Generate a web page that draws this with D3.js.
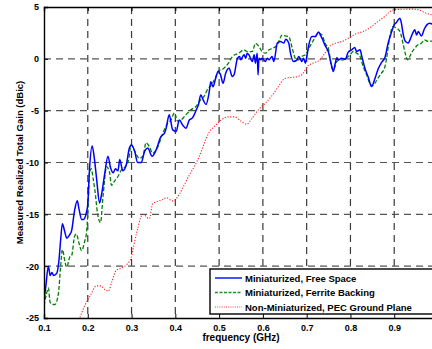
<!DOCTYPE html>
<html>
<head>
<meta charset="utf-8">
<script src="https://cdn.jsdelivr.net/npm/d3@7"></script>
<style>
  body { margin: 0; background: #fff; }
  svg { display: block; font-family: 'Liberation Sans', Arial, sans-serif; }
</style>
</head>
<body>
<div id="chart"></div>
<script>
// frequency (GHz) / gain (dBic)
const freeSpace = [
	[0.1,-23.3],[0.104,-22.0],[0.11,-20.0],[0.114,-20.9],[0.118,-20.6],[0.122,-20.9],[0.129,-20.7],[0.134,-19.5],
	[0.138,-17.5],[0.142,-15.9],[0.147,-16.6],[0.152,-17.3],[0.158,-17.0],[0.163,-16.6],[0.17,-14.6],[0.176,-13.7],
	[0.18,-14.5],[0.186,-15.5],[0.19,-15.5],[0.197,-14.8],[0.2,-14.0],[0.204,-10.6],[0.21,-8.4],[0.215,-9.6],
	[0.22,-11.5],[0.227,-13.9],[0.231,-13.2],[0.239,-11.0],[0.246,-9.4],[0.252,-10.5],[0.258,-11.0],[0.263,-10.6],
	[0.269,-10.8],[0.273,-9.7],[0.28,-10.8],[0.288,-10.2],[0.295,-8.6],[0.3,-8.3],[0.307,-8.9],[0.314,-10.0],
	[0.322,-10.0],[0.33,-8.9],[0.337,-8.6],[0.347,-9.4],[0.356,-8.8],[0.367,-7.5],[0.375,-7.2],[0.379,-6.7],
	[0.386,-5.4],[0.394,-6.85],[0.402,-7.0],[0.409,-5.9],[0.417,-6.4],[0.424,-6.7],[0.432,-5.9],[0.439,-5.7],
	[0.443,-5.4],[0.448,-4.9],[0.453,-4.4],[0.458,-3.5],[0.464,-4.0],[0.47,-4.4],[0.477,-3.3],[0.481,-2.2],
	[0.486,-2.7],[0.492,-1.9],[0.498,-1.2],[0.503,-1.5],[0.509,-2.35],[0.515,-1.38],[0.523,-0.9],[0.53,-1.7],
	[0.534,-1.55],[0.542,0.06],[0.547,0.23],[0.549,-0.1],[0.557,0.39],[0.561,0.06],[0.564,0.55],[0.568,0.39],
	[0.576,-0.26],[0.58,0.39],[0.583,-0.42],[0.587,0.55],[0.589,-1.55],[0.591,0.06],[0.595,-0.1],[0.598,0.06],
	[0.606,-0.26],[0.61,0.06],[0.614,-0.1],[0.621,0.23],[0.625,-0.26],[0.633,1.52],[0.64,1.68],[0.648,1.52],
	[0.652,1.9],[0.659,1.52],[0.663,0.55],[0.67,-0.26],[0.678,-0.1],[0.682,0.23],[0.689,-0.26],[0.693,0.06],
	[0.697,-0.42],[0.701,0.39],[0.705,1.35],[0.712,2.16],[0.72,2.16],[0.727,2.6],[0.731,2.32],[0.735,2.0],
	[0.742,1.3],[0.75,0.6],[0.756,-0.5],[0.761,-1.22],[0.765,-0.5],[0.769,0.1],[0.772,-0.1],[0.78,0.06],
	[0.788,-0.05],[0.795,0.65],[0.803,0.87],[0.81,1.1],[0.814,0.71],[0.822,0.87],[0.826,0.23],[0.833,-0.9],
	[0.841,-1.8],[0.848,-2.67],[0.856,-1.9],[0.863,-1.0],[0.871,-0.35],[0.879,0.15],[0.886,1.5],[0.894,2.6],
	[0.9,3.3],[0.905,3.5],[0.909,3.76],[0.913,3.92],[0.917,3.3],[0.92,2.48],[0.924,1.8],[0.928,1.6],
	[0.932,1.52],[0.936,1.83],[0.943,2.55],[0.947,2.8],[0.951,2.3],[0.955,2.64],[0.962,2.2],[0.969,2.9],
	[0.975,3.3],[0.981,3.44],[0.99,3.3],[1.0,3.2]
];

const ferrite = [
	[0.1,-23.8],[0.105,-22.8],[0.11,-22.1],[0.114,-23.5],[0.121,-23.7],[0.125,-23.7],[0.133,-22.6],[0.138,-20.0],
	[0.142,-18.4],[0.148,-19.6],[0.152,-20.1],[0.159,-19.1],[0.163,-19.0],[0.17,-17.1],[0.174,-16.9],[0.18,-17.8],
	[0.186,-18.5],[0.193,-17.6],[0.197,-16.8],[0.2,-15.0],[0.204,-11.0],[0.208,-10.6],[0.212,-11.5],[0.216,-12.6],
	[0.223,-15.1],[0.229,-15.8],[0.235,-13.2],[0.243,-10.4],[0.25,-11.0],[0.254,-12.2],[0.261,-11.8],[0.269,-11.35],
	[0.277,-10.7],[0.288,-10.3],[0.294,-9.6],[0.299,-8.3],[0.307,-8.9],[0.318,-9.6],[0.326,-9.4],[0.333,-8.1],
	[0.341,-8.5],[0.348,-9.1],[0.36,-8.5],[0.371,-7.2],[0.383,-6.2],[0.39,-5.9],[0.398,-5.2],[0.405,-6.0],
	[0.413,-5.9],[0.424,-5.4],[0.436,-4.9],[0.447,-4.6],[0.458,-3.95],[0.466,-3.6],[0.473,-3.0],[0.485,-2.35],
	[0.496,-1.4],[0.5,-1.1],[0.508,-1.0],[0.515,-0.74],[0.523,-0.3],[0.53,0.2],[0.545,0.55],[0.557,0.87],
	[0.564,0.7],[0.576,0.7],[0.583,1.5],[0.591,1.2],[0.598,0.7],[0.606,0.55],[0.614,0.87],[0.621,1.0],
	[0.633,1.35],[0.644,2.3],[0.652,2.2],[0.659,2.15],[0.667,1.03],[0.674,0.06],[0.682,-0.1],[0.689,0.23],
	[0.697,0.39],[0.705,1.03],[0.716,1.83],[0.727,2.48],[0.735,2.3],[0.742,1.5],[0.75,0.9],[0.757,-0.74],
	[0.761,-1.06],[0.769,-0.26],[0.777,-0.1],[0.784,-0.1],[0.791,0.06],[0.799,0.39],[0.807,0.71],[0.814,0.55],
	[0.822,0.23],[0.829,-0.74],[0.837,-1.54],[0.844,-2.35],[0.85,-2.6],[0.856,-2.35],[0.863,-1.86],[0.871,-1.38],
	[0.879,-0.74],[0.882,-0.1],[0.89,2.15],[0.897,3.1],[0.905,2.96],[0.913,2.64],[0.92,1.5],[0.925,0.55],
	[0.931,-0.1],[0.939,0.55],[0.947,1.03],[0.954,1.35],[0.962,1.5],[0.969,1.83],[0.977,1.68],[0.985,1.7],[1.0,1.6]
];

const pecGround = [
	[0.18,-25.2],[0.193,-23.8],[0.205,-22.9],[0.22,-21.9],[0.23,-21.9],[0.24,-22.3],[0.247,-22.4],[0.255,-21.5],
	[0.265,-20.4],[0.276,-20.2],[0.29,-19.8],[0.299,-19.2],[0.305,-18.0],[0.314,-16.4],[0.322,-15.2],[0.328,-15.0],
	[0.335,-15.3],[0.341,-15.4],[0.348,-14.0],[0.356,-13.8],[0.37,-13.6],[0.38,-13.4],[0.388,-13.6],[0.395,-13.7],
	[0.41,-13.0],[0.42,-12.2],[0.432,-11.2],[0.443,-10.4],[0.455,-9.4],[0.466,-8.15],[0.477,-7.1],[0.49,-6.5],
	[0.505,-5.9],[0.52,-5.6],[0.535,-5.6],[0.55,-6.0],[0.563,-6.3],[0.575,-5.75],[0.59,-4.9],[0.605,-4.3],
	[0.62,-3.6],[0.635,-2.7],[0.65,-1.9],[0.665,-1.8],[0.68,-1.7],[0.692,-1.4],[0.7,-0.8],[0.715,-0.4],
	[0.727,-0.2],[0.742,0.55],[0.755,1.3],[0.77,1.55],[0.785,1.75],[0.8,2.1],[0.815,2.45],[0.83,2.65],
	[0.848,3.1],[0.863,3.6],[0.878,4.08],[0.89,4.55],[0.9,4.75],[0.92,4.78],[0.94,4.8],[0.955,4.73],
	[0.97,4.45],[0.985,4.25],[1.0,4.1]
];

const xTicks = [0.1, 0.2, 0.3, 0.4, 0.5, 0.6, 0.7, 0.8, 0.9];
const yTicks = [5, 0, -5, -10, -15, -20, -25];
const seriesNames = ['Miniaturized, Free Space', 'Miniaturized, Ferrite Backing', 'Non-Miniaturized, PEC Ground Plane'];

const W = 432, H = 349;
const margin = { top: 7, left: 44, bottom: 31 };
const plotRight = 438; // axis runs to 1.0 GHz, past the cropped edge

const svg = d3.select('#chart').append('svg')
	.attr('width', W)
	.attr('height', H);

const x = d3.scaleLinear().domain([0.1, 1.0]).range([margin.left, plotRight]);
const y = d3.scaleLinear().domain([-25, 5]).range([H - margin.bottom, margin.top]);

svg.append('defs').append('clipPath').attr('id', 'plot')
	.append('rect')
	.attr('x', margin.left).attr('y', margin.top)
	.attr('width', plotRight - margin.left).attr('height', y(-25) - y(5));

// grid
const grid = svg.append('g')
	.attr('stroke', '#3a3a3a')
	.attr('stroke-width', 1.2)
	.attr('stroke-dasharray', '7,5')
	.attr('fill', 'none');

grid.selectAll('.vg')
	.data(xTicks.slice(1))
	.enter().append('line')
	.attr('x1', d => x(d)).attr('x2', d => x(d))
	.attr('y1', y(5)).attr('y2', y(-25));

grid.selectAll('.hg')
	.data(yTicks.slice(1, -1))
	.enter().append('line')
	.attr('stroke', '#555')
	.attr('x1', x(0.1)).attr('x2', plotRight)
	.attr('y1', d => y(d)).attr('y2', d => y(d));

// curves
const line = d3.line()
	.x(d => x(d[0]))
	.y(d => y(d[1]))
	.curve(d3.curveMonotoneX);

const curves = svg.append('g').attr('clip-path', 'url(#plot)').attr('fill', 'none');

curves.append('path')
	.datum(pecGround)
	.attr('stroke', '#ff2020')
	.attr('stroke-width', 1.1)
	.attr('stroke-dasharray', '1.2,1.6')
	.attr('d', line);

curves.append('path')
	.datum(ferrite)
	.attr('stroke', '#008000')
	.attr('stroke-width', 1.3)
	.attr('stroke-dasharray', '4,2')
	.attr('d', line);

curves.append('path')
	.datum(freeSpace)
	.attr('stroke', '#0000ff')
	.attr('stroke-width', 1.5)
	.attr('d', line);

// axes (matlab-style inward ticks)
const xAxis = d3.axisBottom(x)
	.tickValues(xTicks)
	.tickSize(-4)
	.tickPadding(7)
	.tickFormat(d3.format('.1f'));

const yAxis = d3.axisLeft(y)
	.tickValues(yTicks)
	.tickSize(-4)
	.tickPadding(5)
	.tickFormat(d => d);

const gx = svg.append('g')
	.attr('transform', `translate(0, ${y(-25)})`)
	.call(xAxis);

const gy = svg.append('g')
	.attr('transform', `translate(${margin.left}, 0)`)
	.call(yAxis);

const gTop = svg.append('g')
	.attr('transform', `translate(0, ${y(5)})`)
	.call(d3.axisTop(x).tickValues(xTicks).tickSize(-4).tickFormat(''));

[gx, gy, gTop].forEach(g => {
	g.selectAll('.domain').attr('stroke', '#000').attr('stroke-width', 1.4);
	g.selectAll('.tick line').attr('stroke', '#000');
	g.selectAll('.tick text')
		.attr('font-size', 9)
		.attr('font-weight', 'bold')
		.attr('font-family', "'Liberation Sans', Arial, sans-serif")
		.attr('fill', '#000');
});

// axis labels
svg.append('text')
	.attr('x', 241)
	.attr('y', 341)
	.attr('text-anchor', 'middle')
	.attr('font-size', 10)
	.attr('font-weight', 'bold')
	.text('frequency (GHz)');

svg.append('text')
	.attr('transform', `translate(23, ${y(-10)}) rotate(-90)`)
	.attr('text-anchor', 'middle')
	.attr('font-size', 9.5)
	.attr('font-weight', 'bold')
	.text('Measured Realized Total Gain (dBic)');

// legend
const legend = svg.append('g').attr('transform', 'translate(210, 269)');

legend.append('rect')
	.attr('width', 240)
	.attr('height', 45)
	.attr('fill', '#fff')
	.attr('stroke', '#000')
	.attr('stroke-width', 1.4);

const legendStyles = [
	{ color: '#3040ff', dash: null, width: 1.8 },
	{ color: '#209020', dash: '3,1.5', width: 1.5 },
	{ color: '#ff4040', dash: '1,1.2', width: 1.1 }
];

const entry = legend.selectAll('.entry')
	.data(seriesNames)
	.enter().append('g')
	.attr('transform', (d, i) => `translate(0, ${9 + i * 14.5})`);

entry.append('line')
	.attr('x1', 5).attr('x2', 32)
	.attr('y1', 0).attr('y2', 0)
	.attr('stroke', (d, i) => legendStyles[i].color)
	.attr('stroke-width', (d, i) => legendStyles[i].width)
	.attr('stroke-dasharray', (d, i) => legendStyles[i].dash);

entry.append('text')
	.attr('x', 35)
	.attr('y', 3.5)
	.attr('font-size', 9.5)
	.attr('font-weight', 'bold')
	.text(d => d);
</script>
</body>
</html>
